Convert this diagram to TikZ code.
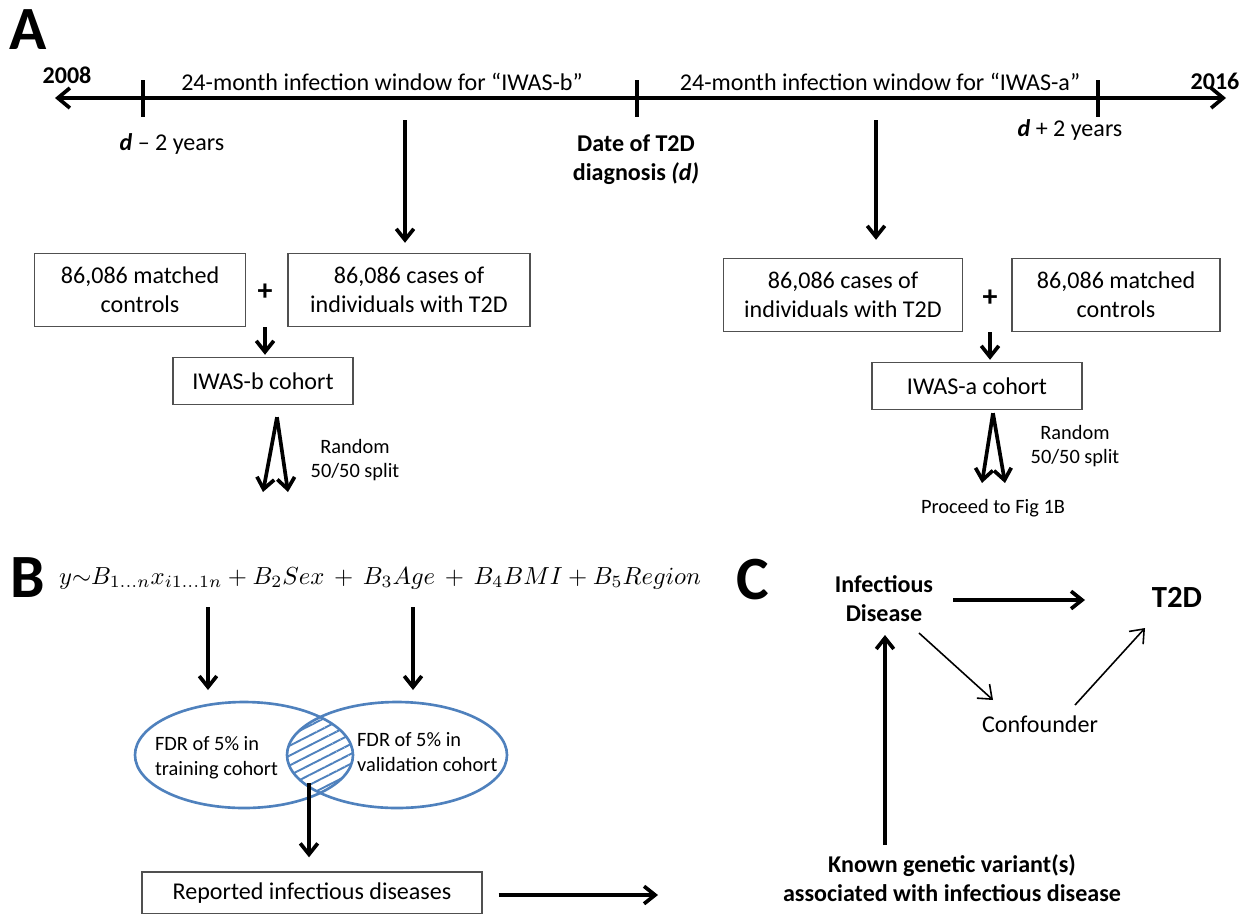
\documentclass[tikz,border=0pt]{standalone}
\usepackage{fontspec}
\usepackage{graphicx}
\setmainfont{Carlito}
\usetikzlibrary{arrows.meta,calc,patterns.meta}

\definecolor{vennblue}{RGB}{79,129,189}
\definecolor{boxline}{RGB}{80,80,80}

\newcommand{\txtfont}{\fontsize{13.7}{16.5}\selectfont}
\newcommand{\smallfont}{\fontsize{11.6}{14}\selectfont}
\newcommand{\panelfont}{\fontsize{35}{40}\selectfont\bfseries}

\tikzset{
  txt/.style={font=\txtfont, align=center, inner sep=1pt},
  boldtxt/.style={txt, font=\txtfont\bfseries},
  smalltxt/.style={txt, font=\smallfont},
  cbox/.style={draw=boxline, line width=0.8pt, txt, inner sep=2pt},
  panel/.style={font=\panelfont, inner sep=0pt},
  bigarrow/.style={line width=2.1pt, -{Straight Barb[length=2.2mm,width=3.5mm]}},
  thinarrow/.style={line width=0.9pt, -{Straight Barb[length=2.4mm,width=3.8mm]}},
  timeline/.style={line width=2.1pt, {Straight Barb[length=2.4mm,width=4mm]}-{Straight Barb[length=2.4mm,width=4mm]}},
  venn/.style={draw=vennblue, line width=1.5pt}
}

\begin{document}
\begin{tikzpicture}[x=0.02cm, y=-0.02cm]
\useasboundingbox (0,0) rectangle (1250,913);

% panel A: timeline
\node[panel] (pA) at (28,30) {A};
\coordinate (tlleft) at (55,98);
\coordinate (tlright) at (1226,98);
\draw[timeline] (tlleft) -- (tlright);
\foreach \x in {143,637,1098}
    \draw[line width=2.1pt] (\x,80) -- (\x,117);

\node[boldtxt] (y2008) at (67,75) {2008};
\node[boldtxt] (y2016) at (1215,81) {2016};
\node[txt] (winb) at (382,82) {24-month infection window for “IWAS-b”};
\node[txt] (wina) at (880,82) {24-month infection window for “IWAS-a”};
\node[txt] (dminus) at (172,144) {\textbf{\textit{d}} -- 2 years};
\node[txt] (dplus) at (1070,130) {\textbf{\textit{d}} + 2 years};
\node[boldtxt] (ddiag) at (636,160) {Date of T2D\\diagnosis \textit{(d)}};

% IWAS-b
\node[cbox, minimum width=4.22cm, minimum height=1.46cm] (ctrlb) at (140,290) {86,086 matched\\controls};
\node[cbox, minimum width=4.84cm, minimum height=1.46cm] (casesb) at (409,290) {86,086 cases of\\individuals with T2D};
\node[boldtxt, font=\fontsize{17}{20}\selectfont\bfseries] (plusb) at (265,292) {+};
\node[cbox, minimum width=3.6cm, minimum height=0.94cm] (cohortb) at (263,381) {IWAS-b cohort};
\node[smalltxt] (randb) at (355,460) {Random\\50/50 split};

\coordinate (winbarr) at (405,120);
\draw[bigarrow] (winbarr) -- ($(casesb.north)+(-4,-10)$);
\draw[bigarrow] ($(plusb)+(0,35)$) -- ($(cohortb.north)+(2,-2)$);
\coordinate (splitb) at ($(cohortb.south)+(14,12)$);
\coordinate (splitbl) at (263,492);
\coordinate (splitbr) at (288,492);
\draw[bigarrow] (splitb) -- (splitbl);
\draw[bigarrow] (splitb) -- (splitbr);

% IWAS-a
\node[cbox, minimum width=4.78cm, minimum height=1.46cm] (casesa) at (843,295) {86,086 cases of\\individuals with T2D};
\node[cbox, minimum width=4.16cm, minimum height=1.46cm] (ctrla) at (1116,295) {86,086 matched\\controls};
\node[boldtxt, font=\fontsize{17}{20}\selectfont\bfseries] (plusa) at (990,298) {+};
\node[cbox, minimum width=4.2cm, minimum height=0.94cm] (cohorta) at (977,386) {IWAS-a cohort};
\node[smalltxt] (randa) at (1075,446) {Random\\50/50 split};
\node[smalltxt] (proceed) at (993,508) {Proceed to Fig 1B};

\coordinate (winaarr) at (876,120);
\draw[bigarrow] (winaarr) -- ($(casesa.north)+(33,-18)$);
\draw[bigarrow] ($(plusa)+(0,34)$) -- ($(cohorta.north)+(13,-2)$);
\coordinate (splita) at ($(cohorta.south)+(16,3)$);
\coordinate (splital) at (982,483);
\coordinate (splitar) at (1005,483);
\draw[bigarrow] (splita) -- (splital);
\draw[bigarrow] (splita) -- (splitar);

% panel B
\node[panel] (pB) at (28,578) {B};
\node[inner sep=0pt] (formula) at (380,578)
    {\resizebox{12.84cm}{!}{$y{\sim}B_{1\ldots n}x_{i1\ldots 1n} + B_2 Sex \,+\, B_3 Age \,+\, B_4 BMI + B_5 Region$}};

\coordinate (trainc) at (244,755);
\coordinate (valc) at (397,755);
\begin{scope}
    \clip (trainc) ellipse [x radius=109, y radius=53];
    \fill[pattern={Lines[angle=27,distance=5pt,line width=1.1pt]}, pattern color=vennblue]
        (valc) ellipse [x radius=110, y radius=53];
\end{scope}
\draw[venn] (trainc) ellipse [x radius=109, y radius=53];
\draw[venn] (valc) ellipse [x radius=110, y radius=53];

\coordinate (traintop) at (208,690);
\coordinate (valtop) at (413,690);
\draw[bigarrow] ($(formula.south -| traintop)+(0,18)$) -- (traintop);
\draw[bigarrow] ($(formula.south -| valtop)+(0,18)$) -- (valtop);

\node[smalltxt, align=left, anchor=west] (fdrtrain) at (153,758) {FDR of 5\% in\\training cohort};
\node[smalltxt, align=left, anchor=west] (fdrval) at (355,752) {FDR of 5\% in\\validation cohort};

\node[cbox, minimum width=6.8cm, minimum height=0.84cm] (reported) at (312,893) {Reported infectious diseases};
\coordinate (lensout) at (309,783);
\draw[bigarrow] (lensout) -- ($(reported.north -| lensout)+(0,-14)$);
\coordinate (repend) at (658,895);
\draw[bigarrow] ($(reported.east)+(16,2)$) -- (repend);

% panel C
\node[panel] (pC) at (753,580) {C};
\node[boldtxt] (infd) at (884,599) {Infectious\\Disease};
\node[boldtxt, font=\fontsize{17.5}{20}\selectfont\bfseries] (t2d) at (1177,597) {T2D};
\node[txt] (conf) at (1040,724) {Confounder};
\node[boldtxt] (known) at (952,878) {Known genetic variant(s)\\associated with infectious disease};

\draw[bigarrow] ($(infd)+(69,1)$) -- ($(t2d)+(-92,3)$);
\draw[thinarrow] ($(infd)+(35,34)$) -- ($(conf)+(-47,-24)$);
\draw[thinarrow] ($(conf)+(35,-19)$) -- ($(t2d)+(-32,31)$);
\draw[bigarrow] ($(known)+(-67,-33)$) -- ($(infd)+(1,36)$);

\end{tikzpicture}
\end{document}
